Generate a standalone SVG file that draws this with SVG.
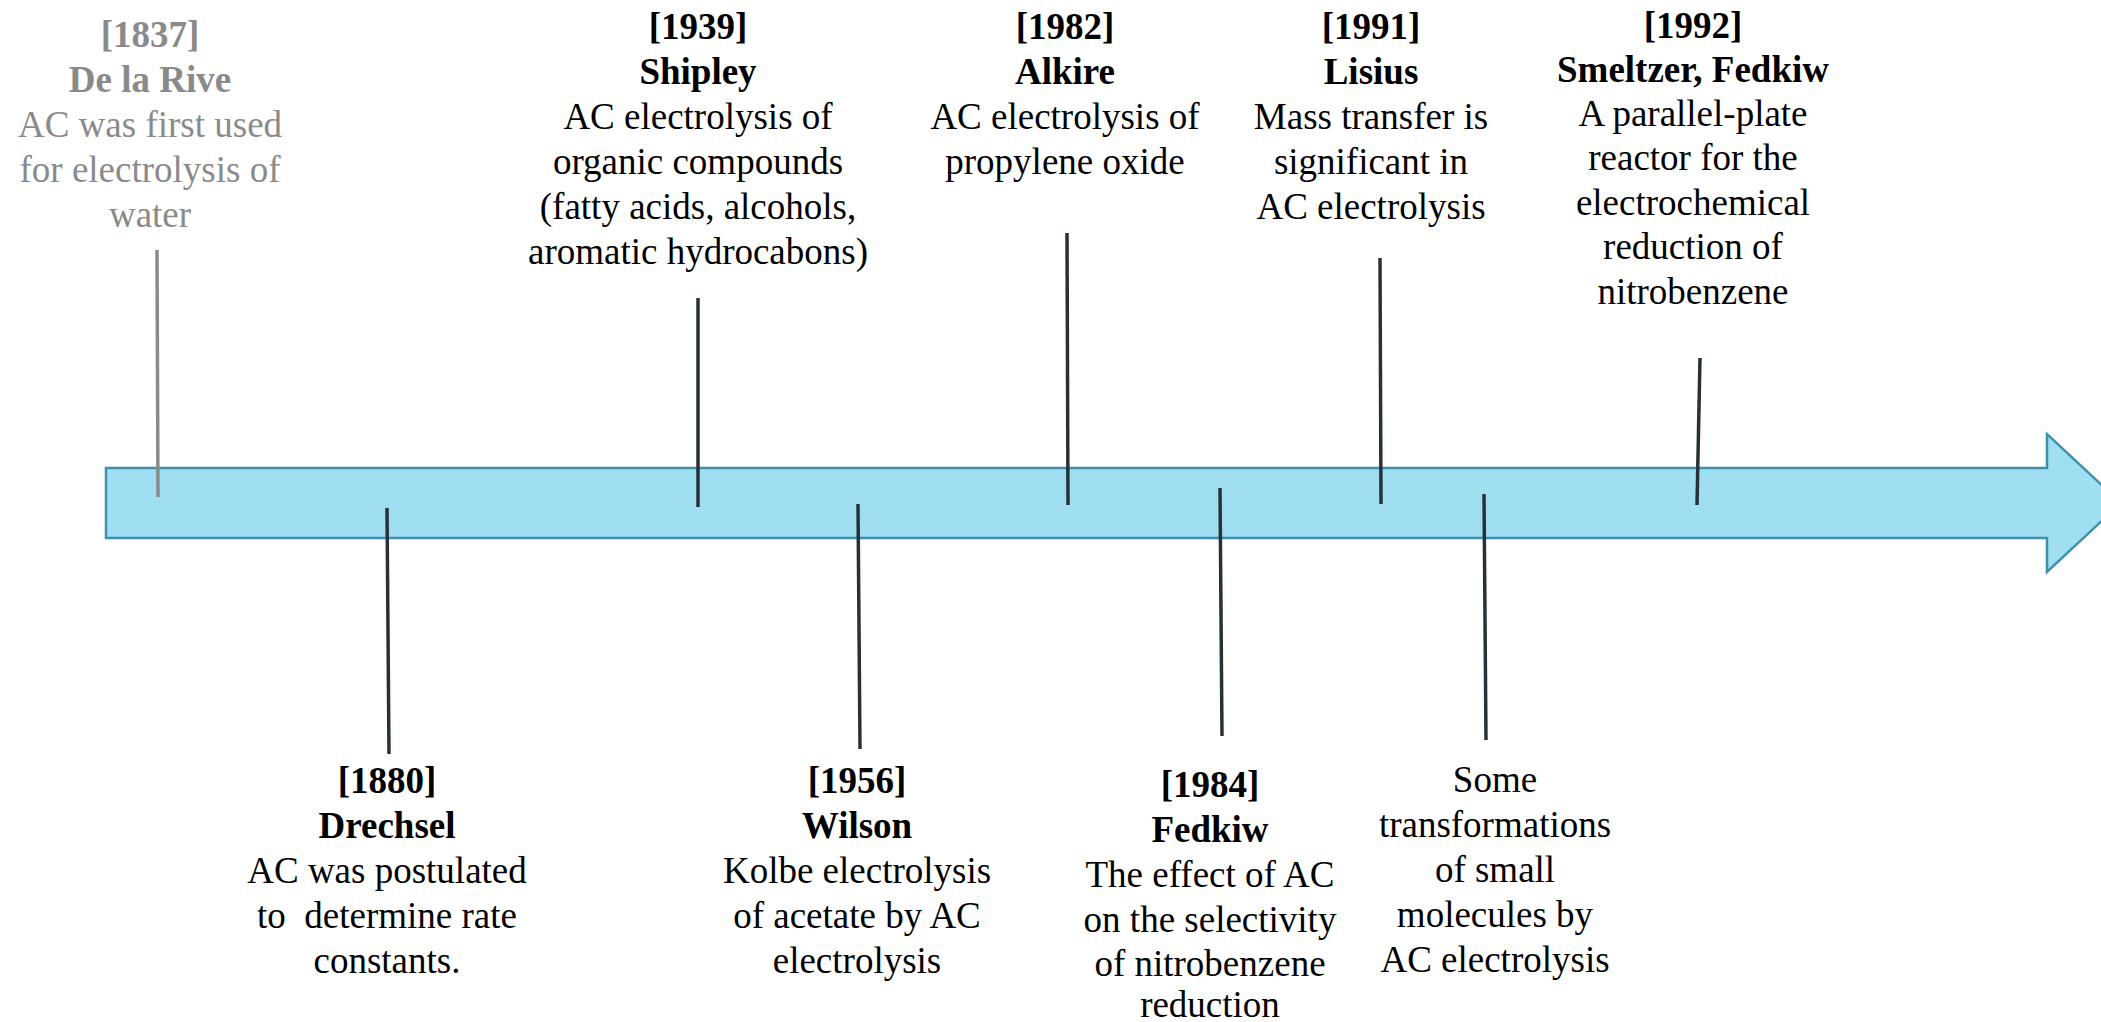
<svg xmlns="http://www.w3.org/2000/svg" width="2101" height="1022" viewBox="0 0 2101 1022">
<style>
text{font-family:"Liberation Serif","Times New Roman",serif;font-size:37px;text-anchor:middle;fill:#000}
.b{font-weight:bold}
.g{fill:#8a8a8a}
.tick{stroke:#263238;stroke-width:3.5;fill:none}
.gtick{stroke:#8a8a8a;stroke-width:3.5;fill:none}
.arrow{fill:#a0dff2;stroke:#3f90ae;stroke-width:2.5}
</style>
<rect width="2101" height="1022" fill="#fff"/>
<g id="timeline-arrow">
<polygon class="arrow" points="106,468 2047,468 2047,434 2121,503 2047,572 2047,538 106,538"/>
</g>
<g id="connectors">
<line class="gtick" x1="157" y1="250" x2="158" y2="497"/>
<line class="tick" x1="387" y1="508" x2="389" y2="754"/>
<line class="tick" x1="698" y1="298" x2="698" y2="507"/>
<line class="tick" x1="858" y1="504" x2="860" y2="749"/>
<line class="tick" x1="1067" y1="233" x2="1068" y2="505"/>
<line class="tick" x1="1220" y1="488" x2="1222" y2="736"/>
<line class="tick" x1="1380" y1="258" x2="1381" y2="504"/>
<line class="tick" x1="1484" y1="494" x2="1486" y2="740"/>
<line class="tick" x1="1700" y1="358" x2="1697" y2="505"/>
</g>
<g id="e1837">
<text class="b g" x="150" y="47">[1837]</text>
<text class="b g" x="150" y="92">De la Rive</text>
<text class="g" x="150" y="137">AC was first used</text>
<text class="g" x="150" y="182">for electrolysis of</text>
<text class="g" x="150" y="227">water</text>
</g>
<g id="e1880">
<text class="b" x="387" y="793">[1880]</text>
<text class="b" x="387" y="838">Drechsel</text>
<text x="387" y="883">AC was postulated</text>
<text x="387" y="928" xml:space="preserve">to  determine rate</text>
<text x="387" y="973">constants.</text>
</g>
<g id="e1939">
<text class="b" x="698" y="39">[1939]</text>
<text class="b" x="698" y="84">Shipley</text>
<text x="698" y="129">AC electrolysis of</text>
<text x="698" y="174">organic compounds</text>
<text x="698" y="219">(fatty acids, alcohols,</text>
<text x="698" y="264">aromatic hydrocabons)</text>
</g>
<g id="e1956">
<text class="b" x="857" y="793">[1956]</text>
<text class="b" x="857" y="838">Wilson</text>
<text x="857" y="883">Kolbe electrolysis</text>
<text x="857" y="928">of acetate by AC</text>
<text x="857" y="973">electrolysis</text>
</g>
<g id="e1982">
<text class="b" x="1065" y="39">[1982]</text>
<text class="b" x="1065" y="84">Alkire</text>
<text x="1065" y="129">AC electrolysis of</text>
<text x="1065" y="174">propylene oxide</text>
</g>
<g id="e1984">
<text class="b" x="1210" y="797">[1984]</text>
<text class="b" x="1210" y="842">Fedkiw</text>
<text x="1210" y="887">The effect of AC</text>
<text x="1210" y="932">on the selectivity</text>
<text x="1210" y="976">of nitrobenzene</text>
<text x="1210" y="1017">reduction</text>
</g>
<g id="e1991">
<text class="b" x="1371" y="39">[1991]</text>
<text class="b" x="1371" y="84">Lisius</text>
<text x="1371" y="129">Mass transfer is</text>
<text x="1371" y="174">significant in</text>
<text x="1371" y="219">AC electrolysis</text>
</g>
<g id="e-small">
<text x="1495" y="792">Some</text>
<text x="1495" y="837">transformations</text>
<text x="1495" y="882">of small</text>
<text x="1495" y="927">molecules by</text>
<text x="1495" y="972">AC electrolysis</text>
</g>
<g id="e1992">
<text class="b" x="1693" y="38">[1992]</text>
<text class="b" x="1693" y="82">Smeltzer, Fedkiw</text>
<text x="1693" y="126">A parallel-plate</text>
<text x="1693" y="170">reactor for the</text>
<text x="1693" y="215">electrochemical</text>
<text x="1693" y="259">reduction of</text>
<text x="1693" y="304">nitrobenzene</text>
</g>
</svg>
